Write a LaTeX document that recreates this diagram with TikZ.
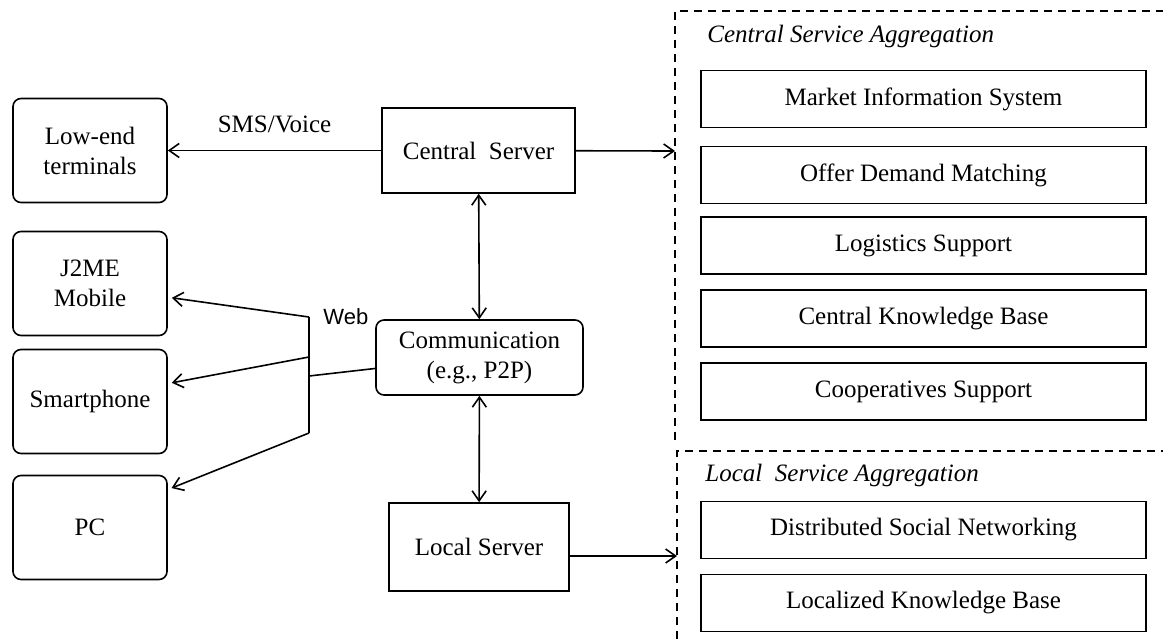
\documentclass[tikz,border=0pt]{standalone}
\usepackage{fontspec}
\setmainfont{Liberation Serif}
\newfontfamily\websf{Liberation Sans}
\usetikzlibrary{arrows.meta}
\begin{document}
\begin{tikzpicture}[x=0.5pt, y=-0.5pt, >={Straight Barb[length=5pt,width=7pt]}, line width=0.8pt,
  term/.style={draw, rounded corners=4pt, minimum width=77pt, minimum height=52pt, align=center, font=\fontsize{12.5}{15}\selectfont},
  srv/.style={draw, align=center, font=\fontsize{12.5}{15}\selectfont},
  svc/.style={draw, minimum width=222.5pt, minimum height=28.5pt, font=\fontsize{12.5}{15}\selectfont},
  aggr/.style={anchor=west, font=\fontsize{12.5}{15}\selectfont\itshape},
  grp/.style={dash pattern=on 4pt off 3pt}]
\useasboundingbox (0,0) rectangle (1163,639);

\node [term] (lowend) at (90,150.5) {Low-end\\terminals};
\node [term] (j2me) at (90,283.5) {J2ME\\Mobile};
\node [term] (smart) at (90,401.5) {Smartphone};
\node [term] (pc) at (90,527.5) {PC};

\node [srv, minimum width=96.5pt, minimum height=42.5pt] (central) at (478.5,150.5) {Central~ Server};
\node [srv, rounded corners=4pt, minimum width=103.5pt, minimum height=37.5pt] (comm) at (479.5,357.5) {Communication\\(e.g., P2P)};
\node [srv, minimum width=90pt, minimum height=44pt] (local) at (479,547) {Local Server};

\draw [grp] (675,440)--(675,11)--(1163,11);
\draw [grp] (677,639)--(677,451)--(1163,451);
\node [aggr] (ctitle) at (700,36) {Central Service Aggregation};
\node [aggr] (ltitle) at (698,475) {Local~ Service Aggregation};

\node [svc] (mis) at (923.5,99) {Market Information System};
\node [svc] (odm) at (923.5,175) {Offer Demand Matching};
\node [svc] (logi) at (923.5,245.5) {Logistics Support};
\node [svc] (ckb) at (923.5,318.5) {Central Knowledge Base};
\node [svc] (coop) at (923.5,391.5) {Cooperatives Support};
\node [svc] (dsn) at (923.5,530) {Distributed Social Networking};
\node [svc] (lkb) at (923.5,603) {Localized Knowledge Base};

\coordinate (cin) at (675,151);
\coordinate (lin) at (677,556);
\coordinate (wtop) at (309,317);
\coordinate (wmid) at (309,357);
\coordinate (wjoin) at (309,376);
\coordinate (wbot) at (309,433);

\draw [->] (central)-- node [above=5pt, font=\fontsize{12.5}{15}\selectfont]{SMS/Voice}(lowend);
\draw [->] (central)--(cin);
\draw [<->] (central)--(comm);
\draw [<->] (comm)--(local);
\draw [->] (local.east |- lin)--(lin);

\draw (wtop)--(wbot);
\draw (wjoin)--(comm.186);
\draw [->, shorten >=2pt] (wtop)--(j2me.-10);
\draw [->, shorten >=2pt] (wmid)--(smart.13);
\draw [->, shorten >=2pt] (wbot)--(pc.26);
\node [anchor=west, font=\websf\fontsize{11}{13}\selectfont] (web) at (316,317) {Web};

\end{tikzpicture}
\end{document}
